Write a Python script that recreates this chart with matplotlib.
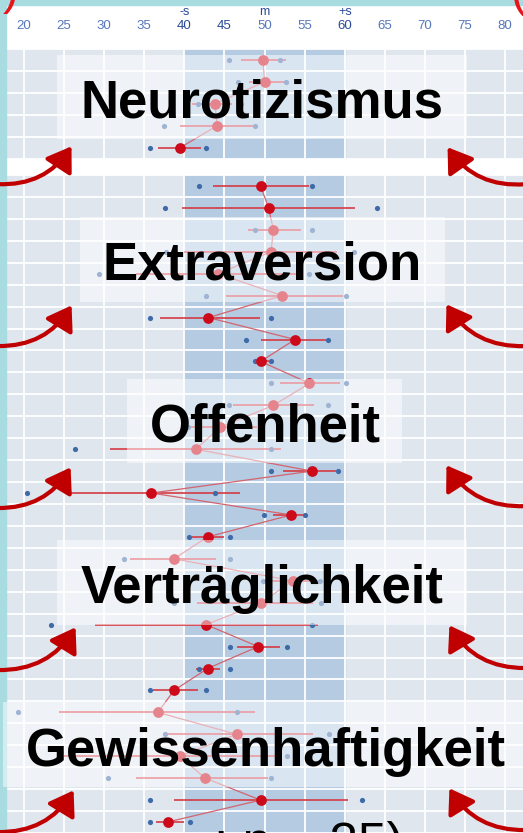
import matplotlib
matplotlib.use("Agg")
import matplotlib.pyplot as plt
from matplotlib.patches import Rectangle, FancyArrowPatch

plt.rcParams['font.family'] = ['Liberation Sans', 'DejaVu Sans']

# ---------------- data ----------------
tick_values = list(range(20, 85, 5))
sd_labels = ["-s", "m", "+s"]
sd_values = [40, 50, 60]

trait_names = ["Neurotizismus", "Extraversion", "Offenheit",
               "Verträglichkeit", "Gewissenhaftigkeit"]

# block on top (Neurotizismus)
neuro_mean = [49.8, 50.0, 43.8, 44.1, 39.5]
neuro_lo = [47.1, 48.0, 41.0, 39.4, 36.7]
neuro_hi = [52.7, 52.5, 46.0, 48.5, 42.1]
neuro_blue_lo = [45.6, 46.7, 41.7, 37.5, 35.7]
neuro_blue_hi = [51.9, 52.7, 47.0, 48.8, 42.7]

# lower block (30 rows)
rest_mean = [49.5, 50.5, 51.1, 50.8, 44.2, 52.2, 43.0, 53.8, 49.5, 55.6,
             51.1, 44.5, 41.4, 55.9, 35.9, 53.3, 42.9, 38.7, 53.5, 49.6,
             42.7, 49.2, 42.9, 38.7, 36.7, 46.5, 39.4, 42.6, 49.5, 37.9]
rest_lo = [43.6, 39.7, 47.9, 40.0, 34.0, 45.2, 36.9, 49.6, 49.0, 51.9,
           46.1, 40.0, 30.7, 52.3, 25.1, 51.0, 41.0, 33.2, 50.0, 41.6,
           28.8, 46.5, 41.5, 36.1, 24.4, 38.0, 25.0, 34.0, 38.7, 36.5]
rest_hi = [55.6, 61.3, 54.6, 59.0, 54.8, 59.8, 49.4, 57.7, 50.5, 59.4,
           56.2, 49.0, 52.1, 58.9, 46.9, 55.0, 45.0, 44.0, 57.0, 56.0,
           56.6, 51.9, 44.5, 41.7, 48.8, 56.0, 51.5, 50.4, 60.4, 40.0]
rest_blue_lo = [41.8, 37.6, 48.8, 37.7, 29.4, 42.7, 35.7, 47.7, 48.8, 50.8,
                45.6, 40.5, 26.4, 50.8, 20.4, 49.9, 40.6, 32.5, 49.8, 38.7,
                23.4, 45.7, 41.8, 35.7, 19.3, 37.6, 24.4, 30.5, 35.7, 35.7]
rest_blue_hi = [55.9, 64.0, 55.9, 61.2, 55.6, 60.1, 50.8, 57.9, 50.8, 60.1,
                57.9, 49.5, 50.8, 59.1, 43.8, 55.0, 45.7, 45.7, 56.9, 57.0,
                55.9, 52.8, 45.7, 42.7, 46.6, 58.0, 52.8, 50.8, 62.1, 40.7]

# ---------------- figure ----------------
W, H = 523, 833
fig = plt.figure(figsize=(W / 100, H / 100), dpi=100)
fig.patch.set_facecolor("white")


def fx(x):
    return x / W


def fy(y):
    return 1 - y / H


def draw_block(ax, mean, lo, hi, blo, bhi):
    n = len(mean)
    rows = list(range(n))
    ax.set_facecolor("#dfe6ee")
    ax.axvspan(40, 60, color="#b4cbe2", zorder=0)
    for v in tick_values:
        ax.axvline(v, color="white", lw=1.3, zorder=1)
    for r in range(n + 1):
        ax.axhline(r - 0.5, color="white", lw=1.3, zorder=1)
    ax.hlines(rows, lo, hi, color="#d63a45", lw=1.4, alpha=0.85, zorder=2)
    ax.scatter(blo, rows, s=14, color="#3f6aa8", zorder=3, lw=0)
    ax.scatter(bhi, rows, s=14, color="#3f6aa8", zorder=3, lw=0)
    ax.plot(mean, rows, color="#d4646e", lw=0.9, zorder=3)
    ax.scatter(mean, rows, s=60, color="#cc0a1a", zorder=4, lw=0)
    ax.set_xlim(17.76, 82.22)
    ax.set_ylim(n - 0.5, -0.5)
    ax.set_yticks([])
    for s in ax.spines.values():
        s.set_visible(False)


ax1 = fig.add_axes([fx(6), fy(158.5), fx(517), 109.5 / H])
draw_block(ax1, neuro_mean, neuro_lo, neuro_hi, neuro_blue_lo, neuro_blue_hi)
ax2 = fig.add_axes([fx(6), 0, fx(517), (H - 175) / H])
draw_block(ax2, rest_mean, rest_lo, rest_hi, rest_blue_lo, rest_blue_hi)
ax2.set_xticks([])

# scale on top
ax1.xaxis.tick_top()
ax1.set_xticks(tick_values)
ax1.set_xticklabels([str(v) for v in tick_values])
ax1.tick_params(axis="x", length=0, pad=12, labelsize=9.5)
for lab, v in zip(ax1.get_xticklabels(), tick_values):
    lab.set_color("#2a4a98" if v in (40, 45, 60) else "#5577bb")
for lab, v in zip(sd_labels, sd_values):
    ax1.text(v, 1 + 37 / 109.5, lab, transform=ax1.get_xaxis_transform(),
             ha="center", va="center", fontsize=9, color="#2a4a98")

# teal slide border
fig.patches.append(Rectangle((0, 0), fx(6), 1, transform=fig.transFigure,
                             color="#a8dce0", zorder=5))
fig.patches.append(Rectangle((0, fy(5)), 1, 5 / H,
                             transform=fig.transFigure, color="#a8dce0",
                             zorder=5))

# red parentheses from the slide above
fig.text(fx(3), fy(14), ")", fontsize=34, color="#e8141c", ha="left",
         va="bottom", zorder=6)
fig.text(fx(526), fy(16), "(", fontsize=34, color="#e8141c", ha="right",
         va="bottom", zorder=6)

# label boxes + texts
boxes = [(57, 55, 467, 139), (80, 217, 445, 302), (127, 379, 402, 463),
         (57, 540, 467, 625), (3, 702, 530, 787)]
text_pos = [(262, 117), (262, 279), (265, 441), (262, 603), (266, 766)]
for name, (x0, y0, x1, y1), (tx, ty) in zip(trait_names, boxes, text_pos):
    fig.patches.append(Rectangle((fx(x0), fy(y1)), fx(x1 - x0), (y1 - y0) / H,
                                 transform=fig.transFigure, color="white",
                                 alpha=0.5, lw=0, zorder=7))
    fig.text(fx(tx), fy(ty), name, ha="center", va="baseline", fontsize=38,
             fontweight="bold", color="black", zorder=8)

# curved red arrows
arrows_left = [((-5, 184), (73, 144)), ((-5, 346), (73, 303)),
               ((-5, 508), (72, 465)), ((-5, 670), (77, 625)),
               ((-5, 832), (75, 788))]
arrows_right = [((528, 184), (446, 145)), ((528, 346), (445, 302)),
                ((528, 506), (445, 463)), ((528, 668), (448, 623)),
                ((528, 830), (448, 786))]
for (a, b), rad in [(p, 0.3) for p in arrows_left] + [(p, -0.3) for p in arrows_right]:
    arr = FancyArrowPatch((fx(a[0]), fy(a[1])), (fx(b[0]), fy(b[1])),
                          transform=fig.transFigure,
                          connectionstyle=f"arc3,rad={rad}",
                          arrowstyle="-|>,head_length=0.75,head_width=0.5",
                          mutation_scale=19, lw=3.0, color="#c00000",
                          zorder=9)
    fig.patches.append(arr)

# cut-off text at the bottom of the slide
fig.text(fx(404), fy(859), ": n = 35)", ha="right", va="baseline",
         fontsize=37, color="black", zorder=8)

fig.savefig("out.png", dpi=100)
